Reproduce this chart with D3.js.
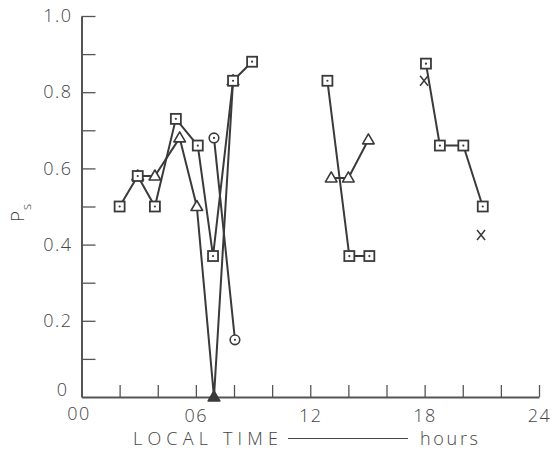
<!DOCTYPE html>
<html>
<head>
<meta charset="utf-8">
<script src="https://cdn.jsdelivr.net/npm/d3@7"></script>
<style>
  html, body { margin: 0; padding: 0; background: #fff; }
  svg { display: block; }
  text { font-family: "Open Sans", "Liberation Sans", sans-serif; font-weight: 300; fill: #444; }
</style>
</head>
<body>
<svg id="chart" width="554" height="450"></svg>
<script>
// ---- data (hour of local time, P_s) ----
const squaresMorningHours = [2.0, 2.95, 3.85, 4.95, 6.1, 6.9, 7.95, 8.95];
const squaresMorningPs    = [0.50, 0.58, 0.50, 0.73, 0.66, 0.37, 0.83, 0.88];

const trianglesMorningHours = [2.95, 3.85, 5.15, 6.05, 6.95, 7.95];
const trianglesMorningPs    = [0.58, 0.58, 0.68, 0.50, 0.0, 0.83];

const circlesMorningHours = [6.95, 8.05];
const circlesMorningPs    = [0.68, 0.15];

const squaresNoonHours = [12.9, 14.05, 15.1];
const squaresNoonPs    = [0.83, 0.37, 0.37];

const trianglesNoonHours = [13.1, 14.0, 15.05];
const trianglesNoonPs    = [0.575, 0.575, 0.675];

const squaresEveningHours = [18.07, 18.8, 20.03, 21.05];
const squaresEveningPs    = [0.875, 0.66, 0.66, 0.50];

const crossesHours = [17.97, 20.96];
const crossesPs    = [0.83, 0.425];

const xTickValues = [0, 2, 4, 6, 8, 10, 12, 14, 16, 18, 20, 22, 24];
const xTickLabels = {0: "00", 6: "06", 12: "12", 18: "18", 24: "24"};
const yTickValues = [0, 0.1, 0.2, 0.3, 0.4, 0.5, 0.6, 0.7, 0.8, 0.9, 1.0];
const yTickLabels = {0: "0", 0.2: "0.2", 0.4: "0.4", 0.6: "0.6", 0.8: "0.8", 1.0: "1.0"};

// ---- drawing ----
const svg = d3.select("#chart");
const x = d3.scaleLinear().domain([0, 24]).range([81.5, 539]);
const y = d3.scaleLinear().domain([0, 1]).range([397, 16]);

const ink = "#3a3a3a";
const axisInk = "#555";

// axes
const gx = svg.append("g").attr("transform", `translate(0,${y(0)})`)
  .call(d3.axisBottom(x).tickValues(xTickValues).tickSizeInner(-12).tickSizeOuter(0).tickPadding(12)
    .tickFormat(d => xTickLabels[d] !== undefined ? xTickLabels[d] : ""));
const gy = svg.append("g").attr("transform", `translate(${x(0)},0)`)
  .call(d3.axisLeft(y).tickValues(yTickValues).tickSizeInner(-14).tickSizeOuter(0).tickPadding(9)
    .tickFormat(d => { const k = Math.round(d * 10) / 10; return yTickLabels[k] !== undefined ? yTickLabels[k] : ""; }));

[gx, gy].forEach(g => {
  g.selectAll("path.domain").attr("stroke", axisInk).attr("stroke-width", 2);
  g.selectAll(".tick line").attr("stroke", axisInk).attr("stroke-width", 1.3);
  g.selectAll(".tick text").style("font-size", "18px").style("letter-spacing", "1.5px")
    .attr("fill", "#444").style("font-family", null);
});
gx.selectAll(".tick").filter(d => d === 0).select("line").remove();
gx.selectAll(".tick").filter(d => d === 0).select("text").attr("dx", "-3px").attr("y", 10);
gy.selectAll(".tick").filter(d => d === 0).select("line").remove();
gy.selectAll(".tick").filter(d => d === 0).select("text").attr("dy", "-0.1em").attr("dx", "-4px");

// axis titles
svg.append("text").attr("x", 133).attr("y", 445)
  .attr("textLength", 145).attr("lengthAdjust", "spacing")
  .style("font-size", "18px").text("LOCAL  TIME");
svg.append("line").attr("x1", 288).attr("x2", 408).attr("y1", 438.5).attr("y2", 438.5)
  .attr("stroke", "#444").attr("stroke-width", 1.2);
svg.append("text").attr("x", 420).attr("y", 445)
  .attr("textLength", 58).attr("lengthAdjust", "spacing")
  .style("font-size", "18px").text("hours");

const yTitle = svg.append("text").attr("transform", "translate(24,222) rotate(-90)")
  .style("font-size", "19px");
yTitle.append("tspan").text("P");
yTitle.append("tspan").attr("dy", "0.5em").attr("dx", "1px").style("font-size", "13px").text("s");

// series
const line = d3.line().x(d => x(d[0])).y(d => y(d[1]));
const zip = (hs, ps) => hs.map((h, i) => [h, ps[i]]);

const series = [
  {pts: zip(squaresMorningHours, squaresMorningPs), mark: "square", lined: true},
  {pts: zip(trianglesMorningHours, trianglesMorningPs), mark: "triangle", lined: true},
  {pts: zip(circlesMorningHours, circlesMorningPs), mark: "circle", lined: true},
  {pts: zip(squaresNoonHours, squaresNoonPs), mark: "square", lined: true},
  {pts: zip(trianglesNoonHours, trianglesNoonPs), mark: "triangle", lined: true},
  {pts: zip(squaresEveningHours, squaresEveningPs), mark: "square", lined: true},
  {pts: zip(crossesHours, crossesPs), mark: "cross", lined: false}
];

const lines = svg.append("g");
series.filter(s => s.lined).forEach(s => {
  lines.append("path").attr("d", line(s.pts)).attr("fill", "none")
    .attr("stroke", ink).attr("stroke-width", 2).attr("stroke-linejoin", "round");
});

const marks = svg.append("g");
const drawOrder = ["triangle", "circle", "cross", "square"];
drawOrder.forEach(kind => {
  series.filter(s => s.mark === kind).forEach(s => {
    s.pts.forEach(p => {
      const cx = x(p[0]), cy = y(p[1]);
      const g = marks.append("g").attr("transform", `translate(${cx},${cy})`);
      if (kind === "square") {
        g.append("rect").attr("x", -5).attr("y", -5).attr("width", 10).attr("height", 10)
          .attr("fill", "#fff").attr("stroke", ink).attr("stroke-width", 1.8);
        g.append("circle").attr("r", 1.1).attr("fill", ink);
      } else if (kind === "triangle") {
        g.append("path").attr("d", "M0,-6L5.8,4L-5.8,4Z")
          .attr("fill", p[1] === 0 ? ink : "#fff").attr("stroke", ink).attr("stroke-width", 1.6)
          .attr("stroke-linejoin", "round");
      } else if (kind === "circle") {
        g.append("circle").attr("r", 4.8).attr("fill", "#fff").attr("stroke", ink).attr("stroke-width", 1.6);
        g.append("circle").attr("r", 1.1).attr("fill", ink);
      } else if (kind === "cross") {
        g.append("path").attr("d", "M-4,-5L4,5M4,-5L-4,5").attr("stroke", ink)
          .attr("stroke-width", 1.5).attr("fill", "none");
      }
    });
  });
});
</script>
</body>
</html>
